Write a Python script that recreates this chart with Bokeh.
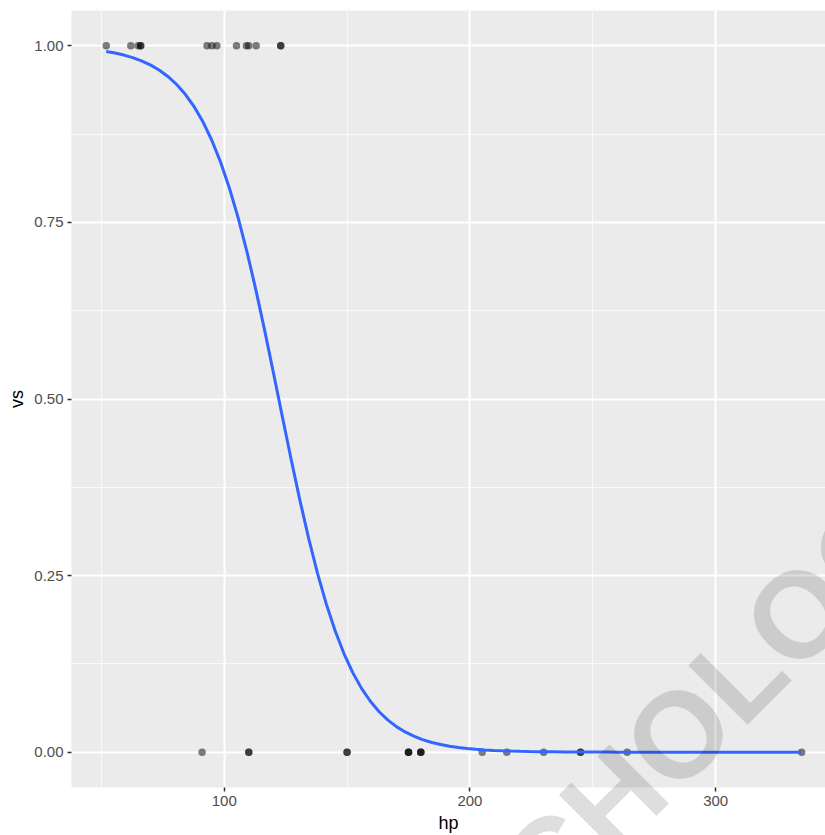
import numpy as np
from bokeh.plotting import figure
from bokeh.models import FixedTicker, Range1d, ColumnDataSource
from bokeh.core.properties import value
from bokeh.embed import file_html
from bokeh.resources import INLINE

# mtcars: horsepower and engine shape (vs)
hp = [110, 110, 93, 110, 175, 105, 245, 62, 95, 123, 123, 180, 180, 180, 205, 215,
      230, 66, 52, 65, 97, 150, 150, 245, 175, 66, 91, 113, 264, 175, 335, 109]
vs = [0, 0, 1, 1, 0, 1, 0, 1, 1, 1, 1, 0, 0, 0, 0, 0,
      0, 1, 1, 1, 1, 0, 0, 0, 0, 1, 0, 1, 0, 0, 0, 1]

x_ticks = [100, 200, 300]
x_minor = [50, 150, 250, 350]
y_ticks = [0.0, 0.25, 0.5, 0.75, 1.0]
y_minor = [0.125, 0.375, 0.625, 0.875]
y_tick_labels = ["0.00", "0.25", "0.50", "0.75", "1.00"]
watermark = ["CHOLOGY"]

# logistic regression fit (glm binomial) via IRLS
X = np.column_stack([np.ones(len(hp)), np.array(hp, float)])
yv = np.array(vs, float)
beta = np.zeros(2)
for _ in range(50):
    eta = X @ beta
    mu = 1 / (1 + np.exp(-eta))
    w = mu * (1 - mu)
    z = eta + (yv - mu) / w
    beta = np.linalg.solve(X.T @ (X * w[:, None]), X.T @ (w * z))
xs = np.linspace(min(hp), max(hp), 80)
ys = 1 / (1 + np.exp(-(beta[0] + beta[1] * xs)))

span = max(hp) - min(hp)
p = figure(width=825, height=835, output_backend="svg", toolbar_location=None,
           x_range=Range1d(min(hp) - 0.05 * span, 344.7),
           y_range=Range1d(-0.05, 1.05),
           min_border_left=71, min_border_right=0, min_border_top=10, min_border_bottom=47)
p.outline_line_color = None
p.background_fill_color = "#EBEBEB"
p.border_fill_color = "white"

p.xaxis.ticker = FixedTicker(ticks=x_ticks, minor_ticks=x_minor)
p.yaxis.ticker = FixedTicker(ticks=y_ticks, minor_ticks=y_minor)
p.yaxis.major_label_overrides = {t: l for t, l in zip(y_ticks, y_tick_labels)}

for ax in (p.xaxis, p.yaxis):
    ax.axis_line_color = None
    ax.major_tick_out = 4
    ax.major_tick_in = 0
    ax.major_tick_line_color = "#333333"
    ax.major_tick_line_width = 1.5
    ax.minor_tick_line_color = None
    ax.major_label_text_font = "Liberation Sans"
    ax.major_label_text_font_size = "15px"
    ax.major_label_text_color = "#4D4D4D"
    ax.major_label_standoff = 4
    ax.axis_label_text_font = "Liberation Sans"
    ax.axis_label_text_font_size = "18px"
    ax.axis_label_text_font_style = "normal"
    ax.axis_label_text_color = "black"

p.xaxis.axis_label = "hp"
p.yaxis.axis_label = "vs"
p.xaxis.major_label_standoff = 4
p.xaxis.axis_label_standoff = 4
p.yaxis.axis_label_standoff = 4

for g in (p.xgrid, p.ygrid):
    g.grid_line_color = "white"
    g.grid_line_width = 2
    g.minor_grid_line_color = "white"
    g.minor_grid_line_width = 1
    g.minor_grid_line_alpha = 0.7

src = ColumnDataSource(dict(hp=hp, vs=vs))
p.scatter("hp", "vs", source=src, size=7.5, color="black", alpha=0.5, line_width=0)
p.line(xs, ys, line_color="#3366FF", line_width=3)

# watermark, drawn above everything and not clipped to the panel
p.text(x=[309.3], y=[0.110], text=watermark, level="overlay",
       angle=45, angle_units="deg", text_font=value("Liberation Sans"),
       text_font_style="bold", text_font_size="122px",
       text_color="black", text_alpha=0.13, text_baseline="middle",
       text_align="center")

open("out.html", "w").write(file_html(p, INLINE))
